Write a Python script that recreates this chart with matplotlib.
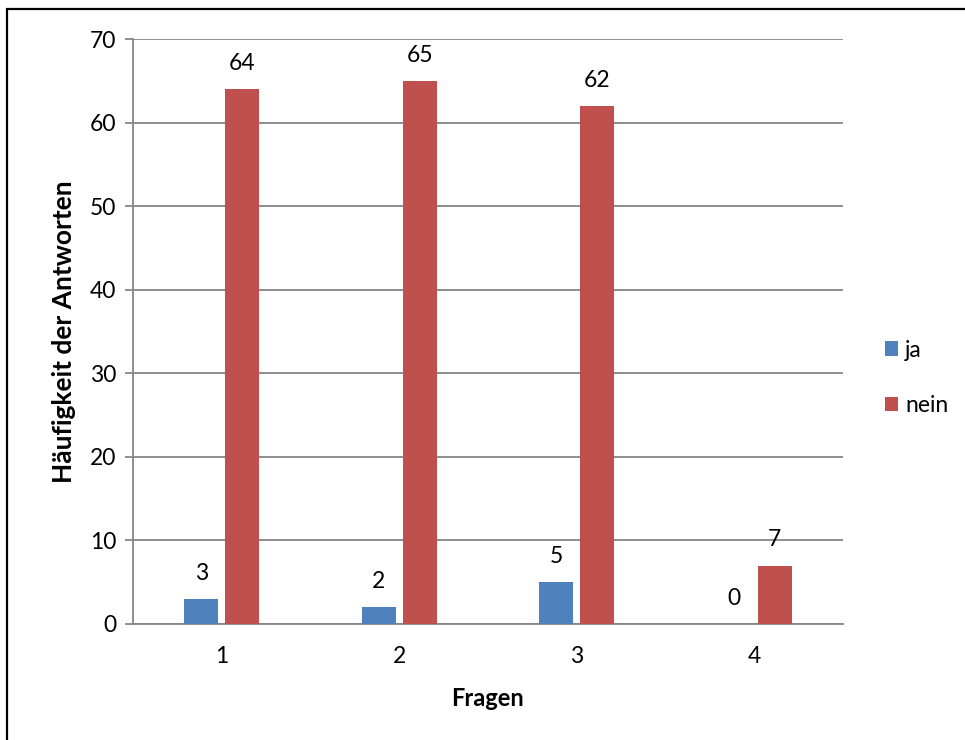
import matplotlib.pyplot as plt
import numpy as np
from matplotlib.patches import Rectangle

# data
fragen = ["1", "2", "3", "4"]
ja = [3, 2, 5, 0]
nein = [64, 65, 62, 7]

plt.rcParams['font.family'] = ['Lato', 'DejaVu Sans']

fig = plt.figure(figsize=(9.65, 7.4), dpi=100)
ax = fig.add_axes([133 / 965, 1 - 624 / 740, (843 - 133) / 965, (624 - 39) / 740])

x = np.arange(len(fragen))
w = 0.19
off = 0.115
b1 = ax.bar(x - off, ja, w, color='#4F81BD', label='ja', zorder=3)
b2 = ax.bar(x + off, nein, w, color='#C0504D', label='nein', zorder=3)

for bars in (b1, b2):
    for r in bars:
        h = r.get_height()
        ax.annotate(str(int(h)), (r.get_x() + r.get_width() / 2, h),
                    xytext=(0, 11), textcoords='offset points',
                    ha='center', va='bottom', fontsize=16.5)

ax.set_xlim(-0.5, 3.5)
ax.set_ylim(0, 70)
ax.set_yticks(range(0, 71, 10))
ax.set_xticks(x)
ax.set_xticklabels(fragen)
ax.yaxis.grid(True, color='#868686', linewidth=1.3, zorder=0)
for s in ['top', 'right']:
    ax.spines[s].set_visible(False)
for s in ['left', 'bottom']:
    ax.spines[s].set_color('#868686')
    ax.spines[s].set_linewidth(1.3)
ax.tick_params(axis='y', length=6, color='#868686', width=1.3, labelsize=16.5, pad=6)
ax.tick_params(axis='x', length=0, labelsize=16.5, pad=16)

ax.set_ylabel("Häufigkeit der Antworten", fontsize=19, fontweight='bold', labelpad=10)
ax.set_xlabel("Fragen", fontsize=17, fontweight='bold', labelpad=14)

fig.legend(handles=[b1, b2], loc='center left', bbox_to_anchor=(864 / 965, 1 - 378 / 740),
           frameon=False, fontsize=16.5, handlelength=0.6, handleheight=0.6,
           handletextpad=0.3, labelspacing=1.5)

fig.add_artist(Rectangle((7 / 965, -0.1), 1.2, 1.1 - 9 / 740,
                         transform=fig.transFigure, fill=False,
                         edgecolor='black', linewidth=1.6))

fig.savefig("out.png", dpi=100)
